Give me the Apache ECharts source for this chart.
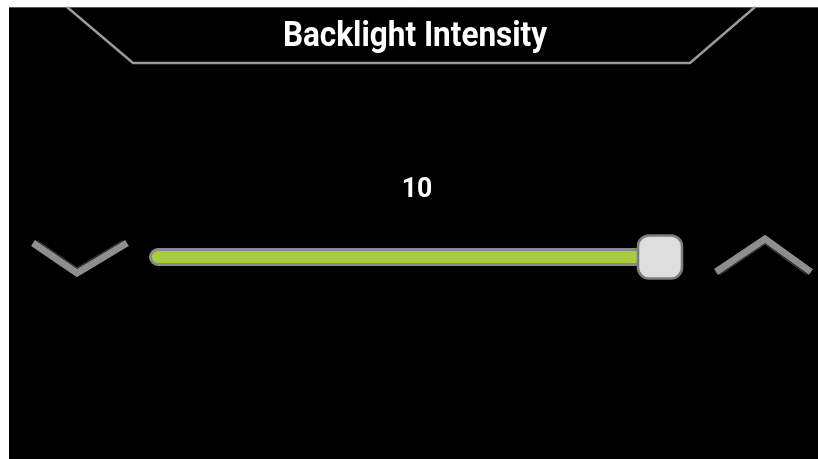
<!DOCTYPE html>
<html>
<head>
<meta charset="utf-8">
<title>Backlight Intensity</title>
<script src="https://cdn.jsdelivr.net/npm/echarts@6/dist/echarts.min.js"></script>
<style>
  html, body { margin: 0; padding: 0; background: #fff; }
  #main { width: 818px; height: 459px; }
</style>
</head>
<body>
<div id="main"></div>
<script>
// slider data
var titleText = 'Backlight Intensity';
var categories = ['Backlight'];
var sliderMin = 0;
var sliderMax = 10;
var values = [10];

var chart = echarts.init(document.getElementById('main'));

// screen frame + chevrons, drawn as decoration
var graphics = [
  { type: 'rect', shape: { x: 9, y: 7, width: 809, height: 452 }, style: { fill: '#000' }, z: -10 },
  { type: 'line', shape: { x1: 9, y1: 7.5, x2: 818, y2: 7.5 }, style: { stroke: '#5a5a5a', lineWidth: 1 }, z: -9 },
  { type: 'polyline', shape: { points: [[67, 7], [133, 63], [690, 63], [755, 7]] },
    style: { stroke: '#9a9a9a', lineWidth: 2.5, fill: null } },
  { type: 'text', x: 415, y: 37, scaleX: 0.9,
    style: { text: titleText, fill: '#fff', font: 'bold 35px Roboto', align: 'center', verticalAlign: 'middle' } },
  { type: 'text', x: 417, y: 190, scaleX: 0.95,
    style: { text: String(values[0]), fill: '#fff', font: 'bold 28px Roboto', align: 'center', verticalAlign: 'middle' } },
  // down chevron
  { type: 'polyline', shape: { points: [[33, 243], [77, 273], [127, 243]] },
    style: { stroke: '#8e8e8e', lineWidth: 7, fill: null, lineJoin: 'miter' } },
  { type: 'polyline', shape: { points: [[37, 240.5], [77, 268], [123, 240.5]] },
    style: { stroke: '#3a3a3a', lineWidth: 1.4, fill: null } },
  // up chevron
  { type: 'polyline', shape: { points: [[716, 272], [765, 239], [811, 272]] },
    style: { stroke: '#8e8e8e', lineWidth: 7, fill: null, lineJoin: 'miter' } },
  { type: 'polyline', shape: { points: [[720, 274.5], [765, 244], [807, 274.5]] },
    style: { stroke: '#3a3a3a', lineWidth: 1.4, fill: null } }
];

chart.setOption({
  backgroundColor: '#fff',
  animation: false,
  graphic: graphics,
  grid: { left: 149, right: 158, top: 248, bottom: 193 },
  xAxis: { type: 'value', min: sliderMin, max: sliderMax, show: false },
  yAxis: { type: 'category', data: categories, show: false },
  series: [
    {
      type: 'bar',
      data: values,
      barWidth: 18,
      itemStyle: { color: '#a8cc3a', borderColor: '#8a8a8a', borderWidth: 3, borderRadius: 9 },
      z: 2
    },
    {
      type: 'scatter',
      data: values.map(function (v, i) { return [v, categories[i]]; }),
      symbol: 'roundRect',
      symbolSize: [44, 43],
      itemStyle: { color: '#dedede', borderColor: '#7c7c7c', borderWidth: 2.5, opacity: 1 },
      z: 5
    }
  ]
});
</script>
</body>
</html>
